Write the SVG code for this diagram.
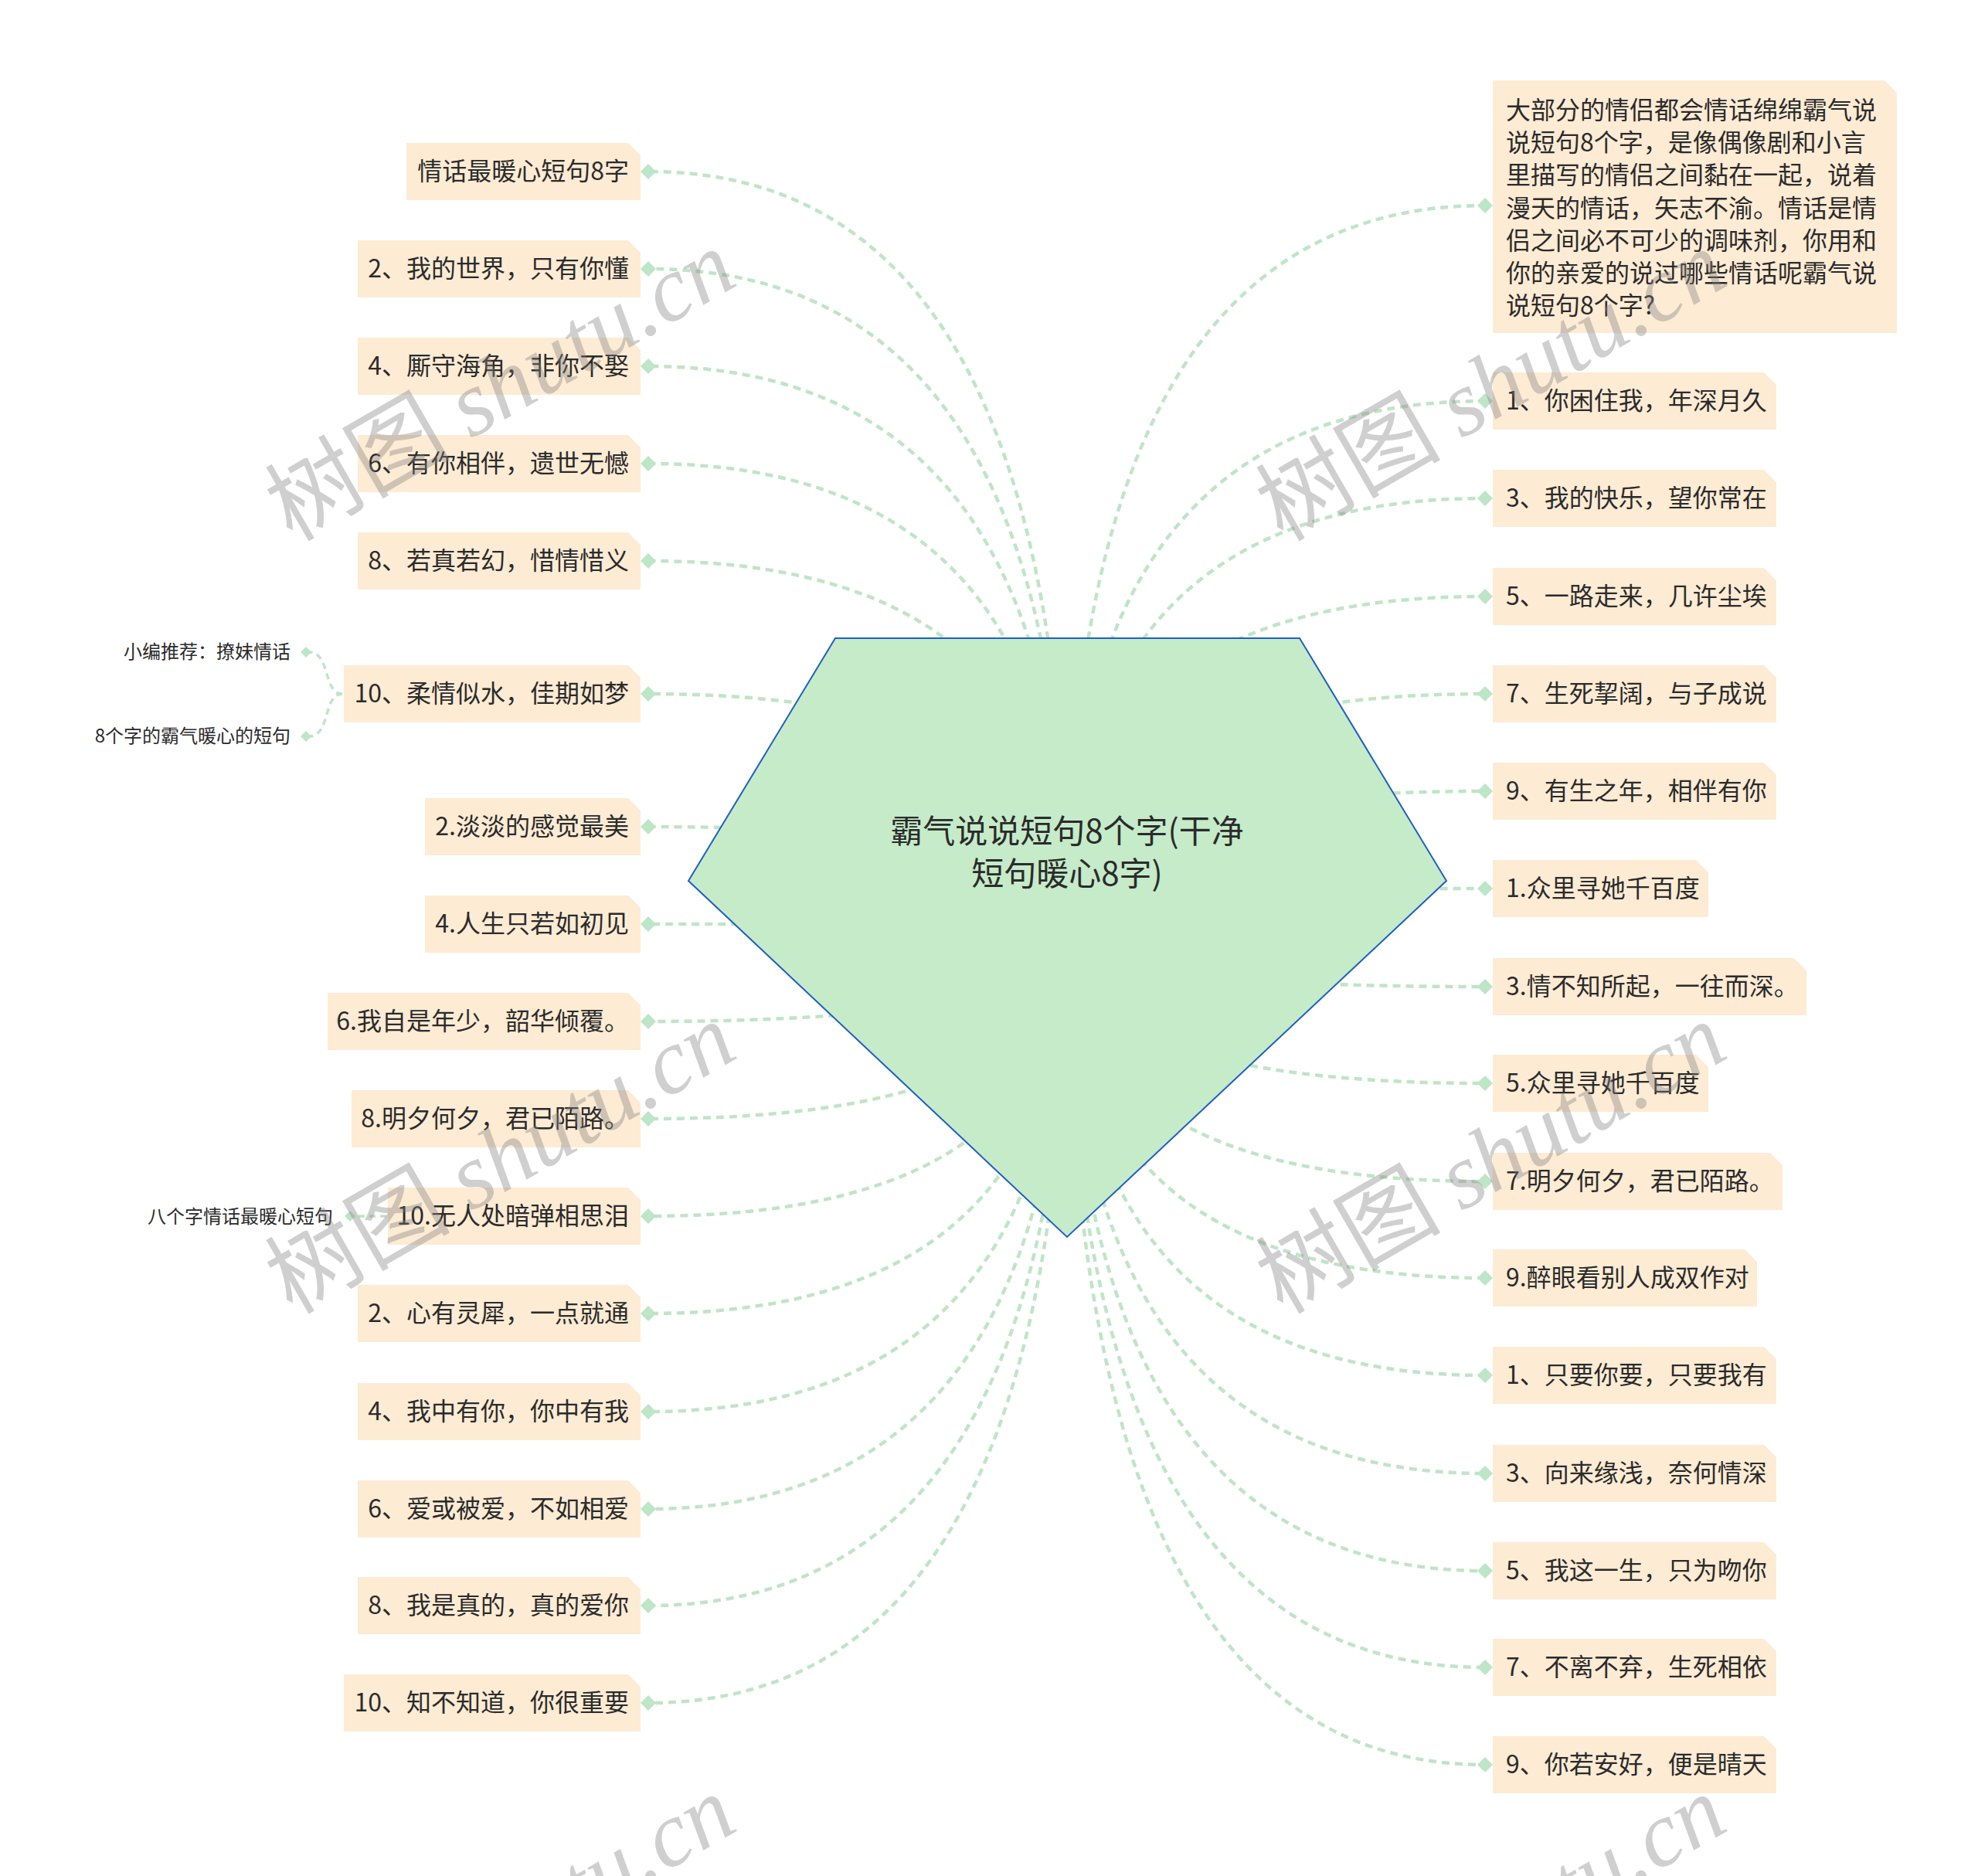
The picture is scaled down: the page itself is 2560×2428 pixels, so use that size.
<svg xmlns="http://www.w3.org/2000/svg" xmlns:xlink="http://www.w3.org/1999/xlink" width="2560" height="2428" viewBox="0 0 2560 2428">
<style>
.t{font-family:"Noto Sans CJK SC","Noto Sans",sans-serif;font-size:32px;fill:#2b2b2b}
.s{font-family:"Noto Sans CJK SC","Noto Sans",sans-serif;font-size:24px;fill:#2b2b2b}
.r{font-family:"Noto Sans CJK SC","Noto Sans",sans-serif;font-size:42px;fill:#2b2b2b}
.box{fill:#fdebd4}
.c{fill:none;stroke:#bfe5c6;stroke-width:4.5;stroke-dasharray:10 7}
.dm{fill:#bce6c5}
.wm{font-family:"Noto Sans CJK SC",sans-serif;font-size:120px;fill:#808080;fill-opacity:0.38}
.wm tspan{font-family:"Liberation Serif",serif;font-style:italic}
</style>
<defs>
<path id="d" d="M-10 0L0-10L10 0L0 10Z"/>
<path id="ds" d="M-7 0L0-7L7 0L0 7Z"/>
</defs>
<rect width="2560" height="2428" fill="#ffffff"/>
<g id="connectors">
<path class="c" d="M1381 1200Q1381 222 839 222"/>
<path class="c" d="M1381 1200Q1381 348 839 348"/>
<path class="c" d="M1381 1200Q1381 474 839 474"/>
<path class="c" d="M1381 1200Q1381 600 839 600"/>
<path class="c" d="M1381 1200Q1381 726 839 726"/>
<path class="c" d="M1381 1200Q1381 898 839 898"/>
<path class="c" d="M1381 1200Q1381 1070 839 1070"/>
<path class="c" d="M1381 1200Q1381 1196 839 1196"/>
<path class="c" d="M1381 1200Q1381 1322 839 1322"/>
<path class="c" d="M1381 1200Q1381 1448 839 1448"/>
<path class="c" d="M1381 1200Q1381 1574 839 1574"/>
<path class="c" d="M1381 1200Q1381 1700 839 1700"/>
<path class="c" d="M1381 1200Q1381 1827 839 1827"/>
<path class="c" d="M1381 1200Q1381 1953 839 1953"/>
<path class="c" d="M1381 1200Q1381 2078 839 2078"/>
<path class="c" d="M1381 1200Q1381 2204 839 2204"/>
<path class="c" d="M1381 1200Q1381 266 1922 266"/>
<path class="c" d="M1381 1200Q1381 519 1922 519"/>
<path class="c" d="M1381 1200Q1381 645 1922 645"/>
<path class="c" d="M1381 1200Q1381 772 1922 772"/>
<path class="c" d="M1381 1200Q1381 898 1922 898"/>
<path class="c" d="M1381 1200Q1381 1024 1922 1024"/>
<path class="c" d="M1381 1200Q1381 1150 1922 1150"/>
<path class="c" d="M1381 1200Q1381 1277 1922 1277"/>
<path class="c" d="M1381 1200Q1381 1402 1922 1402"/>
<path class="c" d="M1381 1200Q1381 1529 1922 1529"/>
<path class="c" d="M1381 1200Q1381 1654 1922 1654"/>
<path class="c" d="M1381 1200Q1381 1780 1922 1780"/>
<path class="c" d="M1381 1200Q1381 1907 1922 1907"/>
<path class="c" d="M1381 1200Q1381 2033 1922 2033"/>
<path class="c" d="M1381 1200Q1381 2158 1922 2158"/>
<path class="c" d="M1381 1200Q1381 2284 1922 2284"/>
<path class="c" style="stroke-width:3.5;stroke-dasharray:8 6" d="M443 898C418 898 428 844 400 844"/>
<path class="c" style="stroke-width:3.5;stroke-dasharray:8 6" d="M443 898C418 898 428 953 400 953"/>
<path class="c" style="stroke-width:3.5;stroke-dasharray:8 6" d="M500 1574L455 1574"/>
</g>
<g id="root">
<polygon points="1081,826 1682,826 1872,1140 1381,1601 891,1140" fill="#c5ebc9" stroke="#1f5fc2" stroke-width="2"/>
<text class="r" x="1381" y="1091" text-anchor="middle">霸气说说短句8个字(干净</text>
<text class="r" x="1381" y="1146" text-anchor="middle">短句暖心8字)</text>
</g>
<g id="left-nodes">
<g id="l1"><polygon class="box" points="526,185 813,185 829,201 829,259 526,259"/><text class="t" x="814" y="233" text-anchor="end">情话最暖心短句8字</text><use href="#d" class="dm" x="839" y="222"/></g>
<g id="l2"><polygon class="box" points="463,311 813,311 829,327 829,385 463,385"/><text class="t" x="814" y="359" text-anchor="end">2、我的世界，只有你懂</text><use href="#d" class="dm" x="839" y="348"/></g>
<g id="l3"><polygon class="box" points="463,437 813,437 829,453 829,511 463,511"/><text class="t" x="814" y="485" text-anchor="end">4、厮守海角，非你不娶</text><use href="#d" class="dm" x="839" y="474"/></g>
<g id="l4"><polygon class="box" points="463,563 813,563 829,579 829,637 463,637"/><text class="t" x="814" y="611" text-anchor="end">6、有你相伴，遗世无憾</text><use href="#d" class="dm" x="839" y="600"/></g>
<g id="l5"><polygon class="box" points="463,689 813,689 829,705 829,763 463,763"/><text class="t" x="814" y="737" text-anchor="end">8、若真若幻，惜情惜义</text><use href="#d" class="dm" x="839" y="726"/></g>
<g id="l6"><polygon class="box" points="445,861 813,861 829,877 829,935 445,935"/><text class="t" x="814" y="909" text-anchor="end">10、柔情似水，佳期如梦</text><use href="#d" class="dm" x="839" y="898"/></g>
<g id="l6a"><text class="s" x="376" y="852" text-anchor="end">小编推荐：撩妹情话</text><use href="#ds" class="dm" x="396" y="844"/></g>
<g id="l6b"><text class="s" x="376" y="961" text-anchor="end">8个字的霸气暖心的短句</text><use href="#ds" class="dm" x="396" y="953"/></g>
<g id="l7"><polygon class="box" points="550,1033 813,1033 829,1049 829,1107 550,1107"/><text class="t" x="814" y="1081" text-anchor="end">2.淡淡的感觉最美</text><use href="#d" class="dm" x="839" y="1070"/></g>
<g id="l8"><polygon class="box" points="550,1159 813,1159 829,1175 829,1233 550,1233"/><text class="t" x="814" y="1207" text-anchor="end">4.人生只若如初见</text><use href="#d" class="dm" x="839" y="1196"/></g>
<g id="l9"><polygon class="box" points="424,1285 813,1285 829,1301 829,1359 424,1359"/><text class="t" x="814" y="1333" text-anchor="end">6.我自是年少，韶华倾覆。</text><use href="#d" class="dm" x="839" y="1322"/></g>
<g id="l10"><polygon class="box" points="455,1411 813,1411 829,1427 829,1485 455,1485"/><text class="t" x="814" y="1459" text-anchor="end">8.明夕何夕，君已陌路。</text><use href="#d" class="dm" x="839" y="1448"/></g>
<g id="l11"><polygon class="box" points="502,1537 813,1537 829,1553 829,1611 502,1611"/><text class="t" x="814" y="1585" text-anchor="end">10.无人处暗弹相思泪</text><use href="#d" class="dm" x="839" y="1574"/></g>
<g id="l11a"><text class="s" x="431" y="1583" text-anchor="end">八个字情话最暖心短句</text><use href="#ds" class="dm" x="453" y="1574"/></g>
<g id="l12"><polygon class="box" points="463,1663 813,1663 829,1679 829,1737 463,1737"/><text class="t" x="814" y="1711" text-anchor="end">2、心有灵犀，一点就通</text><use href="#d" class="dm" x="839" y="1700"/></g>
<g id="l13"><polygon class="box" points="463,1790 813,1790 829,1806 829,1864 463,1864"/><text class="t" x="814" y="1838" text-anchor="end">4、我中有你，你中有我</text><use href="#d" class="dm" x="839" y="1827"/></g>
<g id="l14"><polygon class="box" points="463,1916 813,1916 829,1932 829,1990 463,1990"/><text class="t" x="814" y="1964" text-anchor="end">6、爱或被爱，不如相爱</text><use href="#d" class="dm" x="839" y="1953"/></g>
<g id="l15"><polygon class="box" points="463,2041 813,2041 829,2057 829,2115 463,2115"/><text class="t" x="814" y="2089" text-anchor="end">8、我是真的，真的爱你</text><use href="#d" class="dm" x="839" y="2078"/></g>
<g id="l16"><polygon class="box" points="445,2167 813,2167 829,2183 829,2241 445,2241"/><text class="t" x="814" y="2215" text-anchor="end">10、知不知道，你很重要</text><use href="#d" class="dm" x="839" y="2204"/></g>
</g>
<g id="right-nodes">
<g id="r0"><polygon class="box" points="1932,104 2439,104 2455,120 2455,431 1932,431"/>
<text class="t" x="1949" y="154">大部分的情侣都会情话绵绵霸气说</text>
<text class="t" x="1949" y="196">说短句8个字，是像偶像剧和小言</text>
<text class="t" x="1949" y="238">里描写的情侣之间黏在一起，说着</text>
<text class="t" x="1949" y="281">漫天的情话，矢志不渝。情话是情</text>
<text class="t" x="1949" y="323">侣之间必不可少的调味剂，你用和</text>
<text class="t" x="1949" y="365">你的亲爱的说过哪些情话呢霸气说</text>
<text class="t" x="1949" y="407">说短句8个字?</text>
<use href="#d" class="dm" x="1922" y="266"/></g>
<g id="r1"><polygon class="box" points="1932,482 2283,482 2299,498 2299,556 1932,556"/><text class="t" x="1949" y="530">1、你困住我，年深月久</text><use href="#d" class="dm" x="1922" y="519"/></g>
<g id="r2"><polygon class="box" points="1932,608 2283,608 2299,624 2299,682 1932,682"/><text class="t" x="1949" y="656">3、我的快乐，望你常在</text><use href="#d" class="dm" x="1922" y="645"/></g>
<g id="r3"><polygon class="box" points="1932,735 2283,735 2299,751 2299,809 1932,809"/><text class="t" x="1949" y="783">5、一路走来，几许尘埃</text><use href="#d" class="dm" x="1922" y="772"/></g>
<g id="r4"><polygon class="box" points="1932,861 2283,861 2299,877 2299,935 1932,935"/><text class="t" x="1949" y="909">7、生死挈阔，与子成说</text><use href="#d" class="dm" x="1922" y="898"/></g>
<g id="r5"><polygon class="box" points="1932,987 2283,987 2299,1003 2299,1061 1932,1061"/><text class="t" x="1949" y="1035">9、有生之年，相伴有你</text><use href="#d" class="dm" x="1922" y="1024"/></g>
<g id="r6"><polygon class="box" points="1932,1113 2195,1113 2211,1129 2211,1187 1932,1187"/><text class="t" x="1949" y="1161">1.众里寻她千百度</text><use href="#d" class="dm" x="1922" y="1150"/></g>
<g id="r7"><polygon class="box" points="1932,1240 2322,1240 2338,1256 2338,1314 1932,1314"/><text class="t" x="1949" y="1288">3.情不知所起，一往而深。</text><use href="#d" class="dm" x="1922" y="1277"/></g>
<g id="r8"><polygon class="box" points="1932,1365 2195,1365 2211,1381 2211,1439 1932,1439"/><text class="t" x="1949" y="1413">5.众里寻她千百度</text><use href="#d" class="dm" x="1922" y="1402"/></g>
<g id="r9"><polygon class="box" points="1932,1492 2291,1492 2307,1508 2307,1566 1932,1566"/><text class="t" x="1949" y="1540">7.明夕何夕，君已陌路。</text><use href="#d" class="dm" x="1922" y="1529"/></g>
<g id="r10"><polygon class="box" points="1932,1617 2258,1617 2274,1633 2274,1691 1932,1691"/><text class="t" x="1949" y="1665">9.醉眼看别人成双作对</text><use href="#d" class="dm" x="1922" y="1654"/></g>
<g id="r11"><polygon class="box" points="1932,1743 2283,1743 2299,1759 2299,1817 1932,1817"/><text class="t" x="1949" y="1791">1、只要你要，只要我有</text><use href="#d" class="dm" x="1922" y="1780"/></g>
<g id="r12"><polygon class="box" points="1932,1870 2283,1870 2299,1886 2299,1944 1932,1944"/><text class="t" x="1949" y="1918">3、向来缘浅，奈何情深</text><use href="#d" class="dm" x="1922" y="1907"/></g>
<g id="r13"><polygon class="box" points="1932,1996 2283,1996 2299,2012 2299,2070 1932,2070"/><text class="t" x="1949" y="2044">5、我这一生，只为吻你</text><use href="#d" class="dm" x="1922" y="2033"/></g>
<g id="r14"><polygon class="box" points="1932,2121 2283,2121 2299,2137 2299,2195 1932,2195"/><text class="t" x="1949" y="2169">7、不离不弃，生死相依</text><use href="#d" class="dm" x="1922" y="2158"/></g>
<g id="r15"><polygon class="box" points="1932,2247 2283,2247 2299,2263 2299,2321 1932,2321"/><text class="t" x="1949" y="2295">9、你若安好，便是晴天</text><use href="#d" class="dm" x="1922" y="2284"/></g>
</g>
<g id="watermarks">
<text class="wm" transform="translate(378 702) rotate(-30)">树图 <tspan>shutu.cn</tspan></text>
<text class="wm" transform="translate(1660 702) rotate(-30)">树图 <tspan>shutu.cn</tspan></text>
<text class="wm" transform="translate(378 1702) rotate(-30)">树图 <tspan>shutu.cn</tspan></text>
<text class="wm" transform="translate(1660 1702) rotate(-30)">树图 <tspan>shutu.cn</tspan></text>
<text class="wm" transform="translate(378 2702) rotate(-30)">树图 <tspan>shutu.cn</tspan></text>
<text class="wm" transform="translate(1660 2702) rotate(-30)">树图 <tspan>shutu.cn</tspan></text>
</g>
</svg>
